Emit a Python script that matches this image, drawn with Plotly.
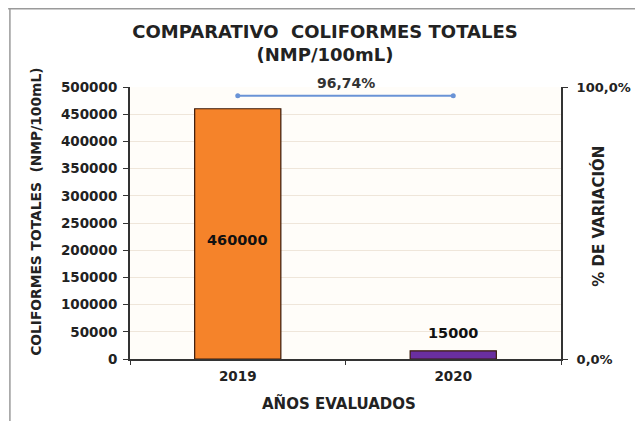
import plotly.graph_objects as go

years = ["2019", "2020"]
coliformes = [460000, 15000]
bar_colors = ["#f5832a", "#6a2fa0"]
variacion = [96.74, 96.74]
variacion_label = "96,74%"

FONT = "DejaVu Sans, Liberation Sans, Arial, sans-serif"
OFF = 8  # default body margin of the page
W, H = 643 - OFF, 421 - OFF
# plot area in page pixels: x 130..565, y 87..359
L = 130 - OFF
T = 87 - OFF
R = W - (565 - OFF)
B = H - (359 - OFF)
pw, ph = W - L - R, H - T - B

def px(xpage):
    return (xpage - OFF - L) / pw

def py(ypage):
    return (H - B - (ypage - OFF)) / ph

bold = dict(family=FONT, weight="bold", color="#222222")

fig = go.Figure()
fig.add_trace(go.Bar(
    x=years, y=coliformes, width=0.4,
    marker=dict(color=bar_colors, line=dict(color="#3a1a0a", width=1.2)),
    showlegend=False,
))
# value labels: the large bar labelled inside (slightly below centre), the small above
for i, v in enumerate(coliformes):
    inside = v > max(coliformes) * 0.2
    fig.add_annotation(
        x=i, y=v / 2 if inside else v, xref="x", yref="y",
        yshift=-6 if inside else 18,
        text=str(v), showarrow=False,
        font=dict(bold, size=14.5, color="#111111"),
    )
fig.add_trace(go.Scatter(
    x=years, y=[v / 100 for v in variacion], yaxis="y2",
    mode="lines+markers",
    line=dict(color="#6a93d6", width=2),
    marker=dict(color="#6a93d6", size=5),
    showlegend=False,
))
fig.add_annotation(
    x=0.5, y=variacion[0] / 100, xref="x", yref="y2",
    text=variacion_label, showarrow=False, yshift=13,
    font=dict(bold, size=14, color="#333333"),
)
# axis titles placed as annotations (page coordinates)
fig.add_annotation(
    x=px(35), y=py(212), xref="paper", yref="paper",
    xanchor="center", yanchor="middle",
    text="COLIFORMES TOTALES  (NMP/100mL)", textangle=-90, showarrow=False,
    font=dict(bold, size=13.8),
)
fig.add_annotation(
    x=px(602), y=py(216), xref="paper", yref="paper",
    xanchor="center", yanchor="middle",
    text="% DE VARIACIÓN", textangle=-90, showarrow=False,
    font=dict(bold, size=15),
)
fig.add_annotation(
    x=px(341), y=py(403), xref="paper", yref="paper",
    xanchor="center", yanchor="middle",
    text="AÑOS EVALUADOS", showarrow=False,
    font=dict(bold, size=15),
)

fig.update_layout(
    width=W, height=H,
    margin=dict(l=L, r=R, t=T, b=B),
    paper_bgcolor="white",
    plot_bgcolor="#fffdf9",
    separators=",.",
    font=dict(family=FONT, color="#222222"),
    title=dict(
        text="COMPARATIVO  COLIFORMES TOTALES<br>(NMP/100mL)",
        x=(325 - OFF) / W, xanchor="center", y=1 - 30 / H, yanchor="top",
        font=dict(bold, size=18),
    ),
    xaxis=dict(
        type="category", range=[-0.5, 1.5],
        showline=True, linecolor="#333333", linewidth=2,
        ticks="outside", tickson="boundaries", ticklen=4, tickcolor="#333333",
        tickfont=dict(bold, size=13.5),
        ticklabelstandoff=4,
        showgrid=False,
    ),
    yaxis=dict(
        range=[0, 500000], dtick=50000, tickformat="d",
        showline=True, linecolor="#333333", linewidth=2,
        ticks="outside", ticklen=5, tickcolor="#333333",
        gridcolor="#efe6da", gridwidth=1,
        tickfont=dict(bold, size=13.5),
        ticklabelstandoff=3,
        zeroline=False,
    ),
    yaxis2=dict(
        overlaying="y", side="right",
        range=[0, 1], tickvals=[0, 1], tickformat=".1%",
        showline=True, linecolor="#333333", linewidth=2,
        ticks="outside", ticklen=5, tickcolor="#333333",
        showgrid=False, zeroline=False,
        tickfont=dict(bold, size=13),
        ticklabelstandoff=6,
    ),
    shapes=[
        dict(type="line", xref="paper", yref="paper",
             x0=px(7), x1=px(660), y0=py(8.8), y1=py(8.8),
             line=dict(color="#9a9a9a", width=1.5)),
        dict(type="line", xref="paper", yref="paper",
             x0=px(8.8), x1=px(8.8), y0=py(7), y1=py(430),
             line=dict(color="#9a9a9a", width=1.5)),
    ],
)

fig.write_html("out.html")
